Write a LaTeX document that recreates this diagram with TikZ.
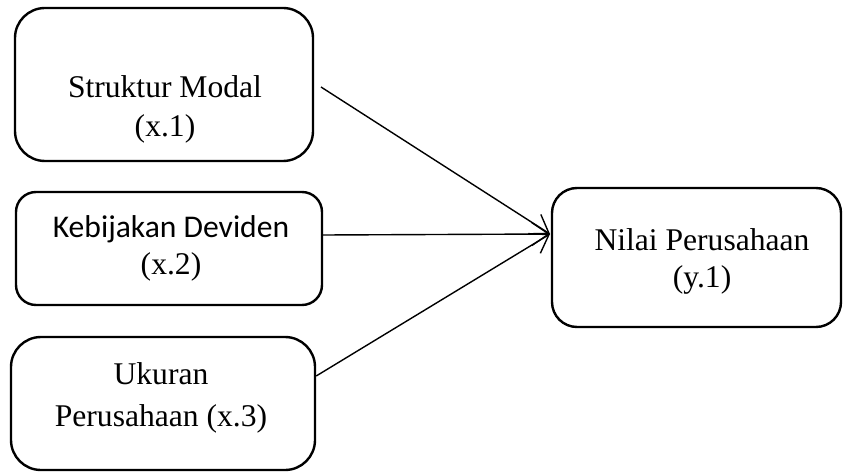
\documentclass[tikz,border=0pt]{standalone}
\usepackage{fontspec}
\setmainfont{Liberation Serif}
\newfontfamily\calibrifont{Carlito}
\usetikzlibrary{arrows.meta}

\begin{document}
\begin{tikzpicture}[x=1pt,y=-1pt,
  box/.style={draw=black, line width=2.4pt, inner sep=0pt, fill=white},
  lbl/.style={anchor=base, inner sep=0pt, font=\fontsize{31.6}{38}\selectfont},
  arr/.style={line width=1.4pt, -{Straight Barb[length=17pt,width=23pt,line width=1.4pt]}}]
  \useasboundingbox (0,0) rectangle (843,473);

  % variable boxes
  \node[box, rounded corners=30pt, minimum width=298pt, minimum height=153pt] (b1) at (164,84.5) {};
  \node[box, rounded corners=20pt, minimum width=306pt, minimum height=113pt] (b2) at (169,248.5) {};
  \node[box, rounded corners=30pt, minimum width=304pt, minimum height=133pt] (b3) at (163,403.5) {};
  \node[box, rounded corners=25pt, minimum width=289pt, minimum height=139pt] (b4) at (696.5,257.5) {};

  % labels
  \node[lbl] (t1a) at (165,98) {Struktur Modal};
  \node[lbl] (t1b) at (165,137) {(x.1)};
  \node[lbl, font=\calibrifont\fontsize{31.6}{38}\selectfont] (t2a) at (171,237) {Kebijakan Deviden};
  \node[lbl] (t2b) at (171,274) {(x.2)};
  \node[lbl] (t3a) at (161,384) {Ukuran};
  \node[lbl] (t3b) at (161,426) {Perusahaan (x.3)};
  \node[lbl] (t4a) at (702,250) {Nilai Perusahaan};
  \node[lbl] (t4b) at (702,287) {(y.1)};

  % connector end points
  \coordinate (s1) at (321,87);
  \coordinate (s2) at (b2.east |- 0,235);
  \coordinate (s3) at (b3.east |- 0,376);
  \coordinate (tip) at (550,234);

  \draw[arr] (s1) -- (tip);
  \draw[arr] (s2) -- (tip);
  \draw[arr] (s3) -- (tip);
\end{tikzpicture}
\end{document}
